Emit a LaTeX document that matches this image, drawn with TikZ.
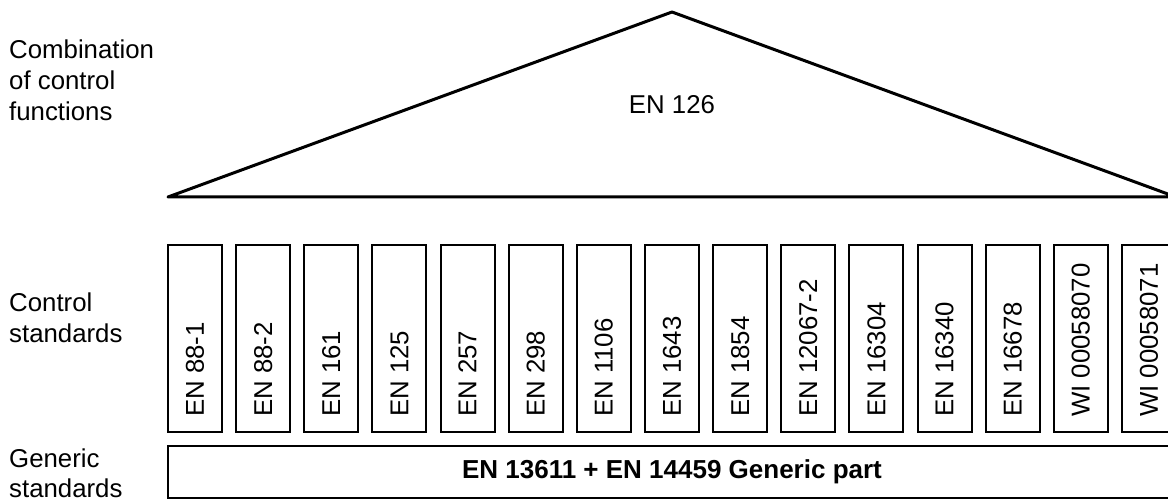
\documentclass[tikz,border=0pt]{standalone}
\usepackage{fontspec}
\setmainfont{Liberation Sans}
\begin{document}
\begin{tikzpicture}[x=1pt,y=-1pt,
  txt/.style={font=\fontsize{25.8}{31}\selectfont, inner sep=0pt},
  sidelbl/.style={txt, align=left, anchor=base west},
  stdbox/.style={draw, line width=2pt, minimum width=54pt, minimum height=187pt, inner sep=0pt},
  stdlbl/.style={txt, rotate=90, anchor=west},
  genbox/.style={draw, line width=2pt, minimum width=1008pt, minimum height=52pt, inner sep=0pt,
                 font=\fontsize{26}{31}\bfseries\selectfont},
  roof/.style={line width=3pt, line join=round}]
\useasboundingbox (0,0) rectangle (1168,502);
% roof triangle
\coordinate (tl) at (168,197);
\coordinate (tt) at (672,12);
\coordinate (tr) at (1176,197);
\draw[roof] (tl) -- (tt) -- (tr) -- cycle;
\node[txt] (e126) at (672,105) {EN 126};
% control standards
\foreach \lab [count=\i from 0] in {EN 88-1,EN 88-2,EN 161,EN 125,EN 257,EN 298,EN 1106,EN 1643,EN 1854,EN 12067-2,EN 16304,EN 16340,EN 16678,WI 00058070,WI 00058071}{
  \node[stdbox] (s\i) at ({195+68.14*\i},338.5) {};
  \node[stdlbl] (l\i) at ([yshift=16pt]s\i.south) {\lab};
}
% generic part
\node[genbox] (g) at (672,472) {EN 13611 + EN 14459 Generic part};
% side labels (base = baseline of last line)
\node[sidelbl] (c1) at (9,121) {Combination\\of control\\functions};
\node[sidelbl] (c2) at (9,343) {Control\\standards};
\node[sidelbl] (c3) at (9,498) {Generic\\standards};
\end{tikzpicture}
\end{document}
